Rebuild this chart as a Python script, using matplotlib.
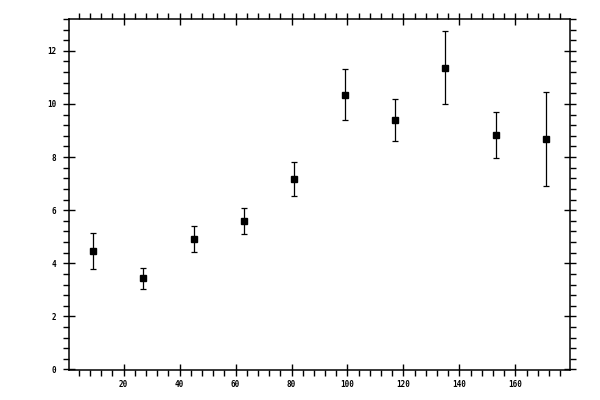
import matplotlib
matplotlib.use('Agg')
import matplotlib.pyplot as plt
from matplotlib.ticker import MultipleLocator

x_vals = [9, 27, 45, 63, 81, 99, 117, 135, 153, 171]
y_vals = [4.46, 3.43, 4.91, 5.58, 7.18, 10.34, 9.40, 11.36, 8.83, 8.68]
y_err = [0.67, 0.41, 0.49, 0.49, 0.64, 0.96, 0.78, 1.38, 0.85, 1.77]

fig = plt.figure(figsize=(6, 4), dpi=100)
ax = fig.add_axes([0.115, 0.075, 0.835, 0.8775])

ax.errorbar(x_vals, y_vals, yerr=y_err, fmt='s', color='black', ms=5,
            ecolor='black', elinewidth=0.9, capsize=2, capthick=0.9)

ax.xaxis.set_major_locator(MultipleLocator(20))
ax.xaxis.set_minor_locator(MultipleLocator(4))
ax.yaxis.set_major_locator(MultipleLocator(2))
ax.yaxis.set_minor_locator(MultipleLocator(0.4))

for s in ax.spines.values():
    s.set_linewidth(1.1)

ax.tick_params(which='major', direction='inout', length=8, width=1.0,
               top=True, right=True, labelsize=5.5)
ax.tick_params(which='minor', direction='out', length=4, width=1.0,
               top=True, right=True)
ax.tick_params(axis='y', which='major', pad=5)
ax.tick_params(axis='x', which='major', pad=3)

# the reference leaves the end labels (0 and 180) off the x axis
ax.set_xticks(range(0, 181, 20))
ax.set_xticklabels([str(v) if 0 < v < 180 else '' for v in range(0, 181, 20)])
ax.set_xlim(0.5, 179.5)
ax.set_ylim(-0.02, 13.2)

for lab in ax.get_xticklabels() + ax.get_yticklabels():
    lab.set_family('DejaVu Sans Mono')
    lab.set_fontweight('bold')

fig.savefig('out.png', dpi=100)
